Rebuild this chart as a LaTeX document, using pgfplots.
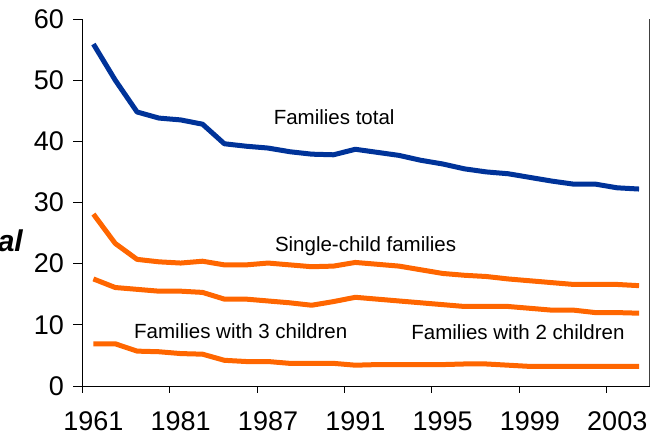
\documentclass[border=0pt]{standalone}
\usepackage{fontspec}
\setmainfont{Liberation Sans}
\usepackage{pgfplots}
\usepackage{pgfplotstable}
\pgfplotsset{compat=1.18}

\definecolor{famblue}{HTML}{003399}
\definecolor{famorange}{HTML}{FF6600}

% x = category index (26 categories), labels every 4th
\pgfplotstableread{
x  total  single  two   three
0  55.9   28.1    17.5  6.9
1  50.0   23.3    16.1  6.9
2  44.8   20.7    15.8  5.7
3  43.8   20.3    15.5  5.6
4  43.5   20.1    15.5  5.3
5  42.8   20.4    15.3  5.2
6  39.6   19.8    14.2  4.2
7  39.2   19.8    14.2  4.0
8  38.9   20.1    13.9  4.0
9  38.3   19.8    13.6  3.7
10 37.9   19.5    13.2  3.7
11 37.8   19.6    13.8  3.7
12 38.7   20.2    14.5  3.4
13 38.2   19.9    14.2  3.5
14 37.7   19.6    13.9  3.5
15 36.9   19.0    13.6  3.5
16 36.3   18.4    13.3  3.5
17 35.5   18.1    13.0  3.6
18 35.0   17.9    13.0  3.6
19 34.7   17.5    13.0  3.4
20 34.1   17.2    12.7  3.2
21 33.5   16.9    12.4  3.2
22 33.0   16.6    12.4  3.2
23 33.0   16.6    12.0  3.2
24 32.4   16.6    12.0  3.2
25 32.2   16.4    11.9  3.2
}\famdata

\begin{document}
\begin{tikzpicture}[x=1pt,y=1pt]
\useasboundingbox (0,0) rectangle (657,438);
% y label, cut by the left edge as in the original
\node[anchor=east,inner sep=0pt,font=\fontsize{30}{30}\selectfont\bfseries\itshape] at (23,197) {Total};
\begin{axis}[
  at={(82.5pt,52pt)}, anchor=south west,
  scale only axis,
  width=567.5pt, height=367pt,
  xmin=-0.5, xmax=25.5,
  ymin=0, ymax=60,
  axis x line*=bottom,
  axis y line*=left,
  axis line style={black, line width=0.8pt},
  ytick={0,10,...,60},
  xtick={0,4,...,24},
  xticklabels={1961,1981,1987,1991,1995,1999,2003},
  minor xtick={-0.5,3.5,...,23.5},
  tick align=outside,
  major tick length=9pt,
  minor tick length=7pt,
  major x tick style={draw=none},
  minor x tick style={black, line width=0.8pt},
  y tick style={black, line width=0.8pt},
  ticklabel style={font=\fontsize{27}{27}\selectfont},
  /pgf/number format/assume math mode=true,
  xticklabel style={yshift=-13pt},
  yticklabel style={xshift=-6pt},
  clip=false,
]
\addplot[famblue, line width=5pt, line join=round] table[x=x, y=total] {\famdata};
\addplot[famorange, line width=5pt, line join=round] table[x=x, y=single] {\famdata};
\addplot[famorange, line width=5pt, line join=round] table[x=x, y=two] {\famdata};
\addplot[famorange, line width=5pt, line join=round] table[x=x, y=three] {\famdata};
\draw[black!75, line width=1pt] (rel axis cs:1,0) -- (rel axis cs:1,1);
\node[font=\fontsize{20.5}{20.5}\selectfont] at (axis cs:11.03,44) {Families total};
\node[font=\fontsize{20.5}{20.5}\selectfont] at (axis cs:12.47,22.8) {Single-child families};
\node[font=\fontsize{20.5}{20.5}\selectfont] at (axis cs:19.45,8.77) {Families with 2 children};
\node[font=\fontsize{20.5}{20.5}\selectfont] at (axis cs:6.75,9.0) {Families with 3 children};
\end{axis}
\end{tikzpicture}
\end{document}
